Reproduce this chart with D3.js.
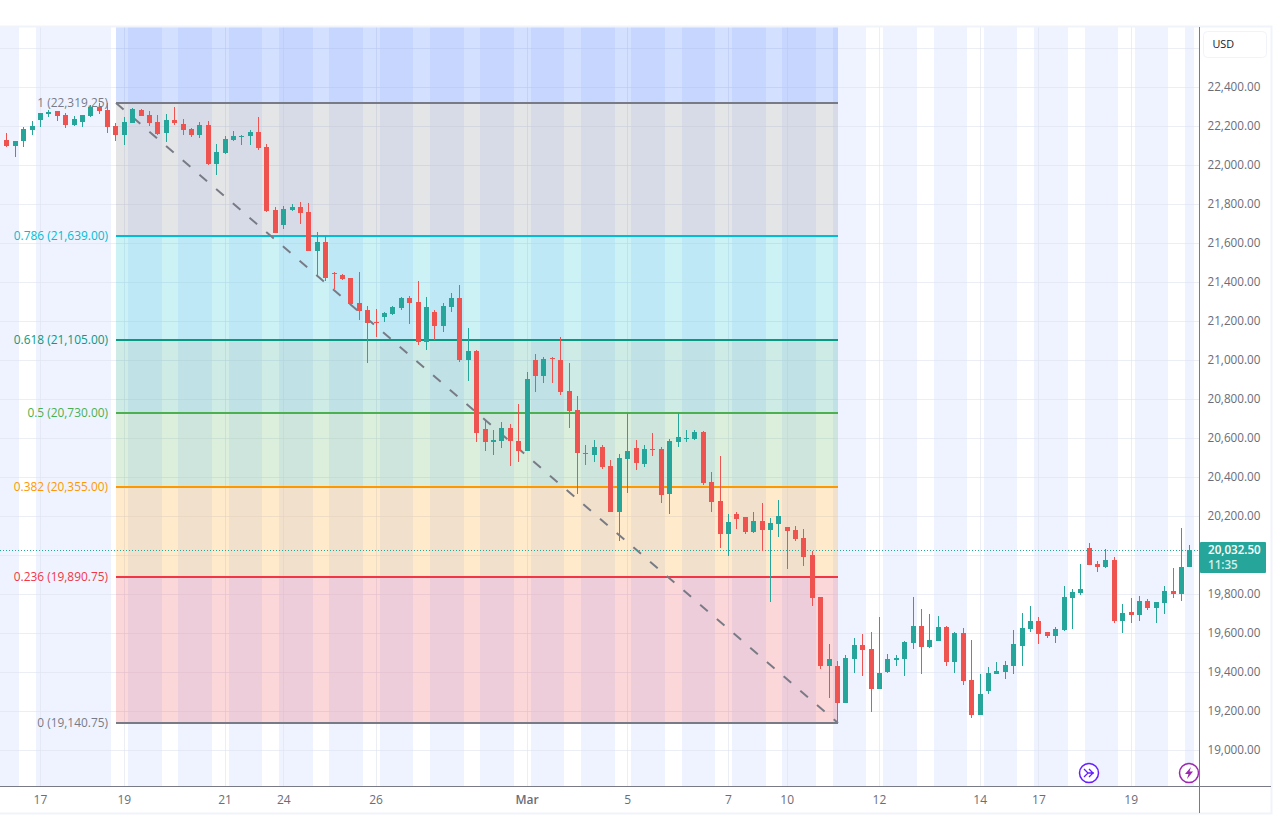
<!DOCTYPE html>
<html lang="en">
	<head>
		<meta charset="UTF-8">
		<title>Fib retracement</title>
		<script src="https://cdnjs.cloudflare.com/ajax/libs/d3/7.8.5/d3.min.js"></script>
		<style>
			body { margin: 0; background: white; }
			text { font-family: "Open Sans", sans-serif; }
		</style>
		<script>
// OHLC per bar
var opens = [
	22129.6,22098.8,22124.5,22180.9,22232.1,22264.6,22278.3,22257.8,22206.5,22221.9,
	22252.6,22298.8,22283.4,22201.4,22155.2,22216.7,22283.4,22257.8,22221.9,22165.5,
	22232.1,22211.6,22186,22155.2,22206.5,22006.6,22063,22129.6,22146.7,22150.1,
	22170.6,22093.7,21770.7,21693.8,21770.7,21786.1,21760.5,21560.5,21606.6,21446,
	21437.4,21422.1,21293.9,21258,21196.5,21222.1,21237.5,21268.3,21319.5,21299,
	21093.9,21247.7,21176,21273.4,21319.5,21001.7,21047.8,20647.9,20581.3,20586.4,
	20653,20586.4,20535.1,21001.7,20919.6,21010.2,21001.7,20842.7,20745.3,20524.9,
	20514.6,20555.6,20458.3,20222.5,20494.2,20550.6,20468.6,20545.5,20545.5,20314.8,
	20581.4,20596.8,20596.8,20632.6,20376.3,20278.9,20109.7,20212.3,20196.9,20120,
	20176.4,20130.2,20161,20145.6,20130.2,20089.2,20002.1,19786.7,19433,19433,
	19243.3,19468.9,19540.7,19520.2,19315.1,19402.2,19463.8,19468.9,19550.9,19638.1,
	19530.4,19561.2,19632.9,19453.5,19602.2,19361.2,19181.8,19304.8,19392,19402.2,
	19433,19535.5,19622.7,19663.7,19607.3,19586.8,19617.6,19781.6,19807.3,20038,
	19955.9,19940.5,19976.4,19663.7,19709.8,19694.5,19766.2,19730.4,19756,19817.5,
	19802.1,19940.5
];
var highs = [
	22167.2,22124.5,22196.2,22227,22268,22283.4,22278.3,22268,22252.6,22257.8,
	22309,22319.3,22319.3,22216.7,22247.5,22293.7,22288.5,22278.3,22257.8,22262.9,
	22298.8,22237.3,22191.1,22221.9,22227,22109.1,22150.1,22175.7,22155.2,22180.9,
	22247.5,22109.1,21786.1,21791.2,21801.5,21811.7,21806.6,21657.9,21637.4,21452.8,
	21442.6,21422.1,21452.8,21278.5,21263.1,21247.7,21278.5,21324.6,21329.8,21406.7,
	21324.6,21258,21293.9,21345.2,21386.2,21165.7,21052.9,20688.9,20642.8,20683.8,
	20673.6,20776.1,20940.1,21032.4,21017,21017,21119.6,20986.3,20817.1,20565.9,
	20591.5,20565.9,20489.1,20519.9,20730.1,20591.6,20566,20627.5,20555.7,20596.8,
	20730.1,20642.9,20642.9,20637.8,20427.6,20509.6,20212.3,20222.5,20196.9,20222.5,
	20268.7,20191.7,20284,20145.6,20150.7,20135.4,20022.6,19786.7,19545.8,19458.6,
	19489.4,19576.5,19597.1,19607.3,19684.2,19494.5,19489.4,19561.2,19786.7,19725.2,
	19699.6,19689.3,19638.1,19607.3,19627.8,19566.3,19392,19427.9,19453.5,19458.6,
	19617.6,19704.7,19740.6,19684.2,19607.3,19632.9,19843.1,19827.8,19955.9,20063.6,
	19971.3,20032.8,19991.8,19750.9,19781.6,19791.9,19776.5,19761.1,19843.1,19935.4,
	20140.5,20053.3
];
var lows = [
	22095.4,22044.2,22095.4,22155.2,22198,22249.2,22227,22192.8,22201.4,22196.2,
	22247.5,22262.9,22165.5,22124.5,22104,22216.7,22252.6,22201.4,22155.2,22119.3,
	22206.5,22155.2,22145,22139.9,22001.4,21950.2,22057.8,22124.5,22104,22104,
	22078.3,21760.5,21652.8,21673.3,21765.6,21699,21560.5,21437.4,21406.7,21365.7,
	21411.8,21288.8,21206.7,20986.3,21119.6,21196.5,21232.4,21258,21186.2,21078.6,
	21052.9,21104.2,21145.2,21247.7,20991.4,20894,20581.3,20535.1,20514.6,20550.5,
	20458.2,20478.7,20535.1,20837.6,20883.7,20883.7,20822.2,20653,20314.7,20463.4,
	20478.7,20442.9,20222.5,20073.8,20319.9,20437.8,20453.2,20509.6,20268.7,20212.3,
	20555.7,20581.4,20591.6,20360.9,20222.5,20037.9,19996.9,20135.4,20109.7,20114.8,
	20022.6,19761.1,20094.3,19930.3,20073.8,19945.7,19740.6,19417.6,19268.9,19140.75,
	19243.3,19397.1,19381.7,19197.2,19315.1,19397.1,19433,19381.7,19520.2,19392,
	19525.3,19561.2,19433,19397.1,19335.6,19166.4,19181.8,19289.5,19392,19366.4,
	19392,19433,19607.3,19545.8,19576.5,19550.9,19612.4,19622.7,19797,19950.8,
	19914.9,19935.4,19653.5,19602.2,19653.5,19663.7,19720.1,19653.5,19699.6,19781.6,
	19766.2,19940.5
];
var closes = [
	22098.8,22124.5,22186,22201.4,22268,22273.1,22252.6,22206.5,22237.3,22257.8,
	22298.8,22278.3,22196.2,22155.2,22221.9,22288.5,22252.6,22216.7,22160.4,22232.1,
	22216.7,22180.9,22155.2,22206.5,22006.6,22068.1,22134.7,22150.1,22151.8,22170.6,
	22088.6,21765.6,21652.8,21775.9,21786.1,21755.3,21560.5,21606.6,21422.1,21440.9,
	21416.9,21288.8,21252.9,21191.4,21191.4,21242.6,21273.4,21319.5,21293.9,21093.9,
	21273.4,21176,21278.5,21319.5,21001.7,21047.8,20627.4,20581.3,20591.5,20653,
	20586.4,20535.1,20904.3,20919.6,21006.8,21005.1,20837.6,20740.2,20524.9,20519.8,
	20555.6,20453.1,20222.5,20499.4,20535.2,20473.7,20545.5,20540.4,20309.7,20586.5,
	20607,20601.9,20632.6,20371.2,20273.8,20109.7,20171.2,20186.6,20120,20176.4,
	20130.2,20166.1,20202,20125.1,20084.1,19991.8,19781.6,19433,19468.9,19243.3,
	19474,19540.7,19515,19315.1,19397.1,19468.9,19474,19556,19638.1,19530.4,
	19566.3,19632.9,19453.5,19602.2,19356.1,19181.8,19289.5,19397.1,19407.4,19438.1,
	19545.8,19627.8,19663.7,19597.1,19586.8,19622.7,19786.7,19812.4,19827.8,19950.8,
	19940.5,19976.4,19663.7,19704.7,19694.5,19766.2,19730.4,19761.1,19817.5,19802.1,
	19940.5,20027.7
];

// sessions in bar numbers (half bars are the gaps between candles)
var sessionStart = [-2,3.5,14.5,20.5,26.5,32.5,38.5,44.5,50.5,56.5,62.5,68.5,74.5,80.5,86.5,92.5,98.5,104.5,110.5,116.5,122.5,128.5,134.5,140.5];
var sessionEnd = [1.5,12.5,18.5,24.5,30.5,36.5,42.5,48.5,54.5,60.5,66.5,72.5,78.5,84.5,90.5,96.5,102.5,108.5,114.5,120.5,126.5,132.5,138.5,141.55];

var timeTickBars = [4,14,26,33,44,62,74,86,93,104,116,123,134];
var timeTickLabels = ["17","19","21","24","26","Mar","5","7","10","12","14","17","19"];

var priceGrid = [22600,22400,22200,22000,21800,21600,21400,21200,21000,20800,20600,20400,20200,20000,19800,19600,19400,19200,19000];
var priceTicks = [22400,22200,22000,21800,21600,21400,21200,21000,20800,20600,20400,20200,19800,19600,19400,19200,19000];

var fibRatios = [1.618,1,0.786,0.618,0.5,0.382,0.236,0];
var fibPrices = [24283.5,22319.25,21639,21105,20730,20355,19890.75,19140.75];
var fibColors = ["#2962ff","#787b86","#00bcd4","#089981","#4caf50","#ff9800","#f23645","#787b86"];
var fibFills = ["#2962ff","#787b86","#00bcd4","#089981","#4caf50","#ff9800","#f23645"];
var fibBars = [13.06,99.12];

var lastPriceLine = 20026;
var lastPriceText = "20,032.50";
var countdownText = "11:35";

function makeChart() {
	var plotTop = 27, plotBottom = 786, axisX = 1199.5, frameRight = 1271, frameBottom = 813;

	var scX = d3.scaleLinear().domain([0, 141]).range([6.4, 1189.4]);
	var scY = d3.scaleLinear().domain([22400, 19000]).range([87.25, 750.45]);
	var levelY = d => Math.round(scY(d) + 0.4);

	var svg = d3.select("svg");

	svg.append("defs").append("clipPath").attr("id", "plot")
		.append("rect")
		.attr("x", 0).attr("y", plotTop)
		.attr("width", axisX).attr("height", plotBottom - plotTop);

	var plot = svg.append("g").attr("clip-path", "url(#plot)");

	// sessions
	plot.append("g").selectAll("rect")
		.data(sessionStart)
		.enter().append("rect")
		.attr("x", d => Math.round(scX(d)))
		.attr("y", plotTop)
		.attr("width", (d, i) => Math.round(scX(sessionEnd[i])) - Math.round(scX(d)))
		.attr("height", plotBottom - plotTop)
		.attr("fill", "#2962ff")
		.attr("fill-opacity", 0.08);

	// grid
	plot.append("g").selectAll("line")
		.data(priceGrid)
		.enter().append("line")
		.attr("x1", 0).attr("x2", axisX)
		.attr("y1", d => Math.floor(scY(d)) + 0.5)
		.attr("y2", d => Math.floor(scY(d)) + 0.5)
		.attr("stroke", "#dfe3f0").attr("stroke-opacity", 0.6);

	plot.append("g").selectAll("line")
		.data(timeTickBars)
		.enter().append("line")
		.attr("x1", d => Math.round(scX(d)) + 0.5)
		.attr("x2", d => Math.round(scX(d)) + 0.5)
		.attr("y1", plotTop).attr("y2", plotBottom)
		.attr("stroke", "#dfe3f0").attr("stroke-opacity", 0.6);

	// fib retracement
	var fibX1 = Math.round(scX(fibBars[0]));
	var fibX2 = Math.round(scX(fibBars[1]));
	var fib = plot.append("g");

	fib.selectAll("rect")
		.data(fibFills)
		.enter().append("rect")
		.attr("x", fibX1)
		.attr("y", (d, i) => levelY(fibPrices[i]))
		.attr("width", fibX2 - fibX1)
		.attr("height", (d, i) => levelY(fibPrices[i + 1]) - levelY(fibPrices[i]))
		.attr("fill", d => d)
		.attr("fill-opacity", 0.2);

	fib.selectAll("line.level")
		.data(fibPrices)
		.enter().append("line")
		.attr("class", "level")
		.attr("x1", fibX1).attr("x2", fibX2)
		.attr("y1", d => levelY(d))
		.attr("y2", d => levelY(d))
		.attr("stroke", (d, i) => fibColors[i])
		.attr("stroke-width", 2);

	fib.append("line")
		.attr("x1", fibX1).attr("y1", levelY(fibPrices[1]))
		.attr("x2", fibX2).attr("y2", levelY(fibPrices[7]))
		.attr("stroke", "#787b86")
		.attr("stroke-width", 2)
		.attr("stroke-dasharray", "10 12");

	var fmt = d3.format(",.2f");
	fib.selectAll("text")
		.data(fibPrices.slice(1))
		.enter().append("text")
		.attr("x", fibX1 - 8)
		.attr("y", d => levelY(d))
		.attr("dy", "0.35em")
		.attr("text-anchor", "end")
		.attr("font-size", 11.9)
		.attr("fill", (d, i) => fibColors[i + 1])
		.text((d, i) => fibRatios[i + 1] + " (" + fmt(d) + ")");

	// last price line
	plot.append("line")
		.attr("x1", 0).attr("x2", axisX)
		.attr("y1", Math.floor(scY(lastPriceLine)) + 0.5)
		.attr("y2", Math.floor(scY(lastPriceLine)) + 0.5)
		.attr("stroke", "#26a69a")
		.attr("stroke-dasharray", "1 2");

	// candles
	var up = "#26a69a", down = "#ef5350";
	var candles = plot.append("g").selectAll("g")
		.data(opens)
		.enter().append("g")
		.attr("fill", (d, i) => closes[i] >= d ? up : down)
		.attr("shape-rendering", "crispEdges");

	candles.append("rect")
		.attr("x", (d, i) => Math.round(scX(i)))
		.attr("width", 1)
		.attr("y", (d, i) => Math.round(scY(highs[i])))
		.attr("height", (d, i) => Math.max(1, Math.round(scY(lows[i])) - Math.round(scY(highs[i]))));

	candles.append("rect")
		.attr("x", (d, i) => Math.round(scX(i)) - 2)
		.attr("width", 5)
		.attr("y", (d, i) => Math.round(scY(Math.max(d, closes[i]))))
		.attr("height", (d, i) => Math.max(1, Math.round(scY(Math.min(d, closes[i]))) - Math.round(scY(Math.max(d, closes[i])))));

	// event markers
	var markers = plot.append("g");
	var m1 = markers.append("g").attr("transform", "translate(" + Math.round(scX(129)) + ",773)");
	m1.append("circle").attr("r", 9.5).attr("fill", "white").attr("stroke", "#651fff").attr("stroke-width", 1.5);
	m1.append("path")
		.attr("d", "M-5,-4 L-1,0 L-5,4 M0,-4 L4,0 L0,4 M-2,0 L5,0")
		.attr("fill", "none").attr("stroke", "#651fff").attr("stroke-width", 1.3);
	var m2 = markers.append("g").attr("transform", "translate(" + Math.round(scX(141)) + ",773)");
	m2.append("circle").attr("r", 9.5).attr("fill", "white").attr("stroke", "#9c27b0").attr("stroke-width", 1.5);
	m2.append("path")
		.attr("d", "M2,-6 L-4,1 L-0.5,1 L-2,6 L4,-1.5 L0.5,-1.5 Z")
		.attr("fill", "#9c27b0");

	// frame
	svg.append("path")
		.attr("d", "M0," + (plotTop - 0.5) + "H" + (frameRight + 0.5) + "V" + (frameBottom + 0.5) + "H0")
		.attr("fill", "none").attr("stroke", "#f0f3fa").attr("stroke-width", 2);

	// axes
	var xAxis = d3.axisBottom(scX)
		.tickValues(timeTickBars)
		.tickFormat((d, i) => timeTickLabels[i])
		.tickSize(0).tickPadding(8);
	var gx = svg.append("g").attr("transform", "translate(0," + (plotBottom + 1) + ")").call(xAxis);
	gx.select(".domain").remove();
	gx.selectAll("text")
		.attr("font-family", null).attr("font-size", 12).attr("fill", "#6a6d78")
		.attr("font-weight", (d, i) => timeTickLabels[i] == "Mar" ? 600 : 400);

	var yAxis = d3.axisRight(scY)
		.tickValues(priceTicks)
		.tickFormat(fmt)
		.tickSize(0).tickPadding(8);
	var gy = svg.append("g").attr("transform", "translate(" + axisX + ",-1)").call(yAxis);
	gy.select(".domain").remove();
	gy.selectAll("text")
		.attr("font-family", null).attr("font-size", 11.7).attr("fill", "#6a6d78");

	svg.append("line")
		.attr("x1", 0).attr("x2", frameRight)
		.attr("y1", plotBottom + 0.5).attr("y2", plotBottom + 0.5)
		.attr("stroke", "#787b86");
	svg.append("line")
		.attr("x1", axisX).attr("x2", axisX)
		.attr("y1", plotTop).attr("y2", frameBottom)
		.attr("stroke", "#787b86");

	// USD button
	svg.append("rect")
		.attr("x", 1203.5).attr("y", 31.5)
		.attr("width", 63).attr("height", 26).attr("rx", 4)
		.attr("fill", "white").attr("stroke", "#f0f3fa");
	svg.append("text")
		.attr("x", 1212.5).attr("y", 44).attr("dy", "0.35em")
		.attr("font-size", 10.8).attr("fill", "#131722")
		.text("USD");

	// last price label
	svg.append("rect")
		.attr("x", 1200).attr("y", 542)
		.attr("width", 66).attr("height", 31).attr("rx", 1)
		.attr("fill", "#26a69a");
	svg.append("text")
		.attr("x", 1208).attr("y", 549.5).attr("dy", "0.35em")
		.attr("font-size", 11.6).attr("font-weight", 600).attr("fill", "white")
		.text(lastPriceText);
	svg.append("text")
		.attr("x", 1208).attr("y", 564.5).attr("dy", "0.35em")
		.attr("font-size", 11.6).attr("font-weight", 600).attr("fill", "#d4eeeb")
		.text(countdownText);
}
		</script>
	</head>
	<body onload="makeChart()">
		<svg width="1282" height="830" style="display:block"></svg>
	</body>
</html>
